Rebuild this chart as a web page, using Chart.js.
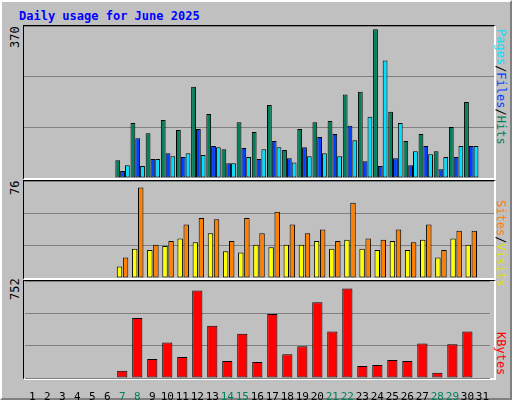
<!DOCTYPE html>
<html><head><meta charset="utf-8">
<script src="https://cdn.jsdelivr.net/npm/chart.js@4"></script>
<style>
body{margin:0;background:#fff}
#w{position:absolute;left:0;top:0;width:508px;height:396px;background:#c0c0c0;border-top:2px solid #fff;border-left:2px solid #fff;border-right:2px solid #808080;border-bottom:2px solid #808080}
.p{position:absolute;left:21px;width:470px;border-top:1px solid #000;border-left:1px solid #000;border-right:2px solid #fff;border-bottom:2px solid #fff;box-sizing:content-box}
canvas{position:absolute;left:0;top:0}
.t{position:absolute;font-family:"DejaVu Sans Mono",monospace;font-size:12px;white-space:nowrap}
.l{transform:rotate(-90deg);transform-origin:left top}
.r{transform:rotate(90deg);transform-origin:left top}
</style></head><body>
<div id="w">
<div class="t" style="left:17px;top:7px;color:#0000ff;font-weight:bold">Daily usage for June 2025</div>
<div class="p" style="top:23px;height:152px"><canvas id="c1"></canvas></div>
<div class="p" style="top:178px;height:97px"><canvas id="c2"></canvas></div>
<div class="p" style="top:278px;height:97px"></div>
<canvas id="c3" style="left:22px;top:279px"></canvas>
<div class="t l" style="left:6px;top:46px">370</div>
<div class="t l" style="left:6px;top:193px">76</div>
<div class="t l" style="left:6px;top:298px">752</div>
<div class="t r" style="left:506px;top:27px"><span style="color:#00e0ff">Pages</span>/<span style="color:#0040ff">Files</span>/<span style="color:#00805c">Hits</span></div>
<div class="t r" style="left:506px;top:198px"><span style="color:#ff8000">Sites</span>/<span style="color:#e0e000">Visits</span></div>
<div class="t r" style="left:506px;top:330px"><span style="color:#ff0000">KBytes</span></div>
</div>
<script>
const days=[];for(let i=1;i<=31;i++)days.push(String(i));
const weekend=[7,8,14,15,21,22,28,29];
const N=null;
const hits=[N,N,N,N,N,N,43,134,109,141,117,222,156,70,136,112,178,68,119,136,139,203,210,362,161,90,107,65,124,185,N];
const files=[N,N,N,N,N,N,17,97,46,60,51,119,78,36,73,46,90,48,75,100,107,127,41,29,48,31,78,21,51,78,N];
const pages=[N,N,N,N,N,N,31,29,46,53,60,56,75,36,51,70,75,38,53,60,53,92,149,286,134,65,58,51,78,78,N];
const visits=[N,N,N,N,N,N,9,23,22,25,31,28,35,21,20,26,24,26,26,29,23,30,23,22,29,22,30,16,31,26,N];
const sites=[N,N,N,N,N,N,16,71,26,29,42,47,46,29,47,35,52,42,35,38,29,59,31,30,38,28,42,22,37,37,N];
const kbytes=[N,N,N,N,N,N,56,466,147,276,162,679,405,132,344,124,496,185,246,587,360,694,94,101,139,132,268,41,261,360,N];
const maxes={top:370,mid:76,bot:752};
function ds(l,d,c){return{label:l,data:d,backgroundColor:c,borderColor:'#000',borderWidth:1,borderSkipped:false}}
function mk(id,w,h,sets,max,showX,cp,bp){
 const cv=document.getElementById(id);cv.width=w;cv.height=h;cv.style.width=w+'px';cv.style.height=h+'px';
 const x={display:showX,grid:{display:false},border:{display:false},
    ticks:{autoSkip:false,maxRotation:0,padding:5,font:{family:'DejaVu Sans Mono',size:11},color:c=>weekend.includes(c.index+1)?'#00805c':'#000'}};
 if(showX)x.afterFit=s=>{s.height=22};
 return new Chart(cv,{type:'bar',data:{labels:days,datasets:sets},options:{responsive:false,animation:false,devicePixelRatio:1,
  layout:{padding:0},plugins:{legend:{display:false},tooltip:{enabled:false}},
  datasets:{bar:{categoryPercentage:cp,barPercentage:bp}},
  scales:{x:x,
   y:{min:0,max:max,ticks:{display:false,stepSize:max/3},border:{display:false},grid:{color:'#808080',drawTicks:false},afterFit:s=>{s.width=0}}}}});
}
mk('c1',470,152,[ds('Hits',hits,'#00805c'),ds('Files',files,'#0040ff'),ds('Pages',pages,'#00e0ff')],maxes.top,false,0.95,1);
mk('c2',470,97,[ds('Visits',visits,'#ffff00'),ds('Sites',sites,'#ff8000')],maxes.mid,false,0.8,0.9);
mk('c3',470,119,[ds('KBytes',kbytes,'#ff0000')],maxes.bot,true,0.8,0.85);
</script></body></html>
